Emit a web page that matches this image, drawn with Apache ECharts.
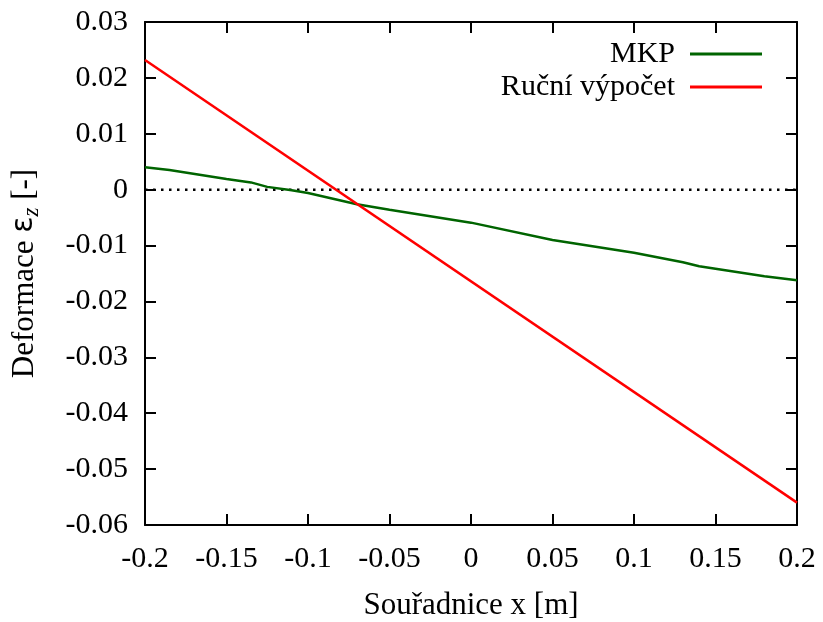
<!DOCTYPE html>
<html>
<head>
<meta charset="utf-8">
<script src="https://cdn.jsdelivr.net/npm/echarts@6/dist/echarts.min.js"></script>
<style>
  html, body { margin: 0; padding: 0; background: #fff; }
  #chart { width: 823px; height: 622px; }
</style>
</head>
<body>
<div id="chart"></div>
<script>
// Strain along the cross-section coordinate: FEM result vs. hand calculation
const xTicks = [-0.2, -0.15, -0.1, -0.05, 0, 0.05, 0.1, 0.15, 0.2];
const yTicks = [-0.06, -0.05, -0.04, -0.03, -0.02, -0.01, 0, 0.01, 0.02, 0.03];

const mkpX = [-0.2, -0.185, -0.15, -0.135, -0.125, -0.11, -0.1, -0.07, -0.05, 0, 0.05, 0.1, 0.13, 0.14, 0.18, 0.2];
const mkpY = [0.0040, 0.0035, 0.0019, 0.0013, 0.0005, -0.0001, -0.0006, -0.0026, -0.0036, -0.0059, -0.0090, -0.0113, -0.0130, -0.0137, -0.0155, -0.0162];

const rucniX = [-0.2, 0.2];
const rucniY = [0.0232, -0.0560];

const zeroX = [-0.2, 0.2];
const zeroY = [0, 0];

const zip = (xs, ys) => xs.map((x, i) => [x, ys[i]]);
const fmt = v => String(+Number(v).toFixed(3));

const FONT = 'Liberation Serif';
const FS = 30;

const chart = echarts.init(document.getElementById('chart'), null, { renderer: 'canvas' });

const axisCommon = {
  axisLine: { show: true, onZero: false, lineStyle: { color: '#000', width: 2 } },
  axisTick: { show: true, inside: true, length: 11, lineStyle: { color: '#000', width: 2 } },
  splitLine: { show: false },
};

chart.setOption({
  animation: false,
  backgroundColor: '#fff',
  grid: { left: 145, right: 26, top: 22, bottom: 97, containLabel: false, outerBoundsMode: 'none' },
  legend: {
    orient: 'vertical',
    right: 56,
    top: 34,
    align: 'right',
    icon: 'rect',
    itemWidth: 72,
    itemHeight: 3,
    itemGap: 3,
    data: ['MKP', 'Ruční výpočet'],
    textStyle: { fontFamily: FONT, fontSize: FS, color: '#000', padding: [0, 10, 0, 0] },
  },
  xAxis: [
    Object.assign({
      type: 'value', position: 'bottom',
      min: xTicks[0], max: xTicks[xTicks.length - 1], interval: 0.05,
      axisLabel: { fontFamily: FONT, fontSize: FS, color: '#000', margin: 19, formatter: fmt },
      name: 'Souřadnice x [m]', nameLocation: 'middle', nameGap: 65,
      nameTextStyle: { fontFamily: FONT, fontSize: 31, color: '#000' },
    }, axisCommon),
    Object.assign({
      type: 'value', position: 'top',
      min: xTicks[0], max: xTicks[xTicks.length - 1], interval: 0.05,
      axisLabel: { show: false },
    }, axisCommon),
  ],
  yAxis: [
    Object.assign({
      type: 'value', position: 'left',
      min: yTicks[0], max: yTicks[yTicks.length - 1], interval: 0.01,
      axisLabel: { fontFamily: FONT, fontSize: FS, color: '#000', margin: 17, formatter: fmt },
      name: 'Deformace {e|ε}{sub|z} [-]', nameLocation: 'middle', nameGap: 102, nameRotate: 90,
      nameTextStyle: {
        fontFamily: FONT, fontSize: 31, color: '#000',
        rich: {
          e: { fontFamily: 'DejaVu Sans', fontSize: 30, color: '#000', verticalAlign: 'middle' },
          sub: { fontFamily: FONT, fontStyle: 'italic', fontSize: 23, color: '#000', verticalAlign: 'bottom', padding: [14, 0, 0, 0] },
        },
      },
    }, axisCommon),
    Object.assign({
      type: 'value', position: 'right',
      min: yTicks[0], max: yTicks[yTicks.length - 1], interval: 0.01,
      axisLabel: { show: false },
    }, axisCommon),
  ],
  series: [
    {
      name: 'zero', type: 'line', data: zip(zeroX, zeroY),
      symbol: 'none', silent: true,
      lineStyle: { color: '#000', width: 2.5, type: [2.5, 5.5] },
      z: 1,
    },
    {
      name: 'MKP', type: 'line', data: zip(mkpX, mkpY),
      symbol: 'none', smooth: false,
      lineStyle: { color: '#006400', width: 2.5 },
      itemStyle: { color: '#006400' },
      z: 2,
    },
    {
      name: 'Ruční výpočet', type: 'line', data: zip(rucniX, rucniY),
      symbol: 'none',
      lineStyle: { color: '#ff0000', width: 2.5 },
      itemStyle: { color: '#ff0000' },
      z: 3,
    },
  ],
});
</script>
</body>
</html>
